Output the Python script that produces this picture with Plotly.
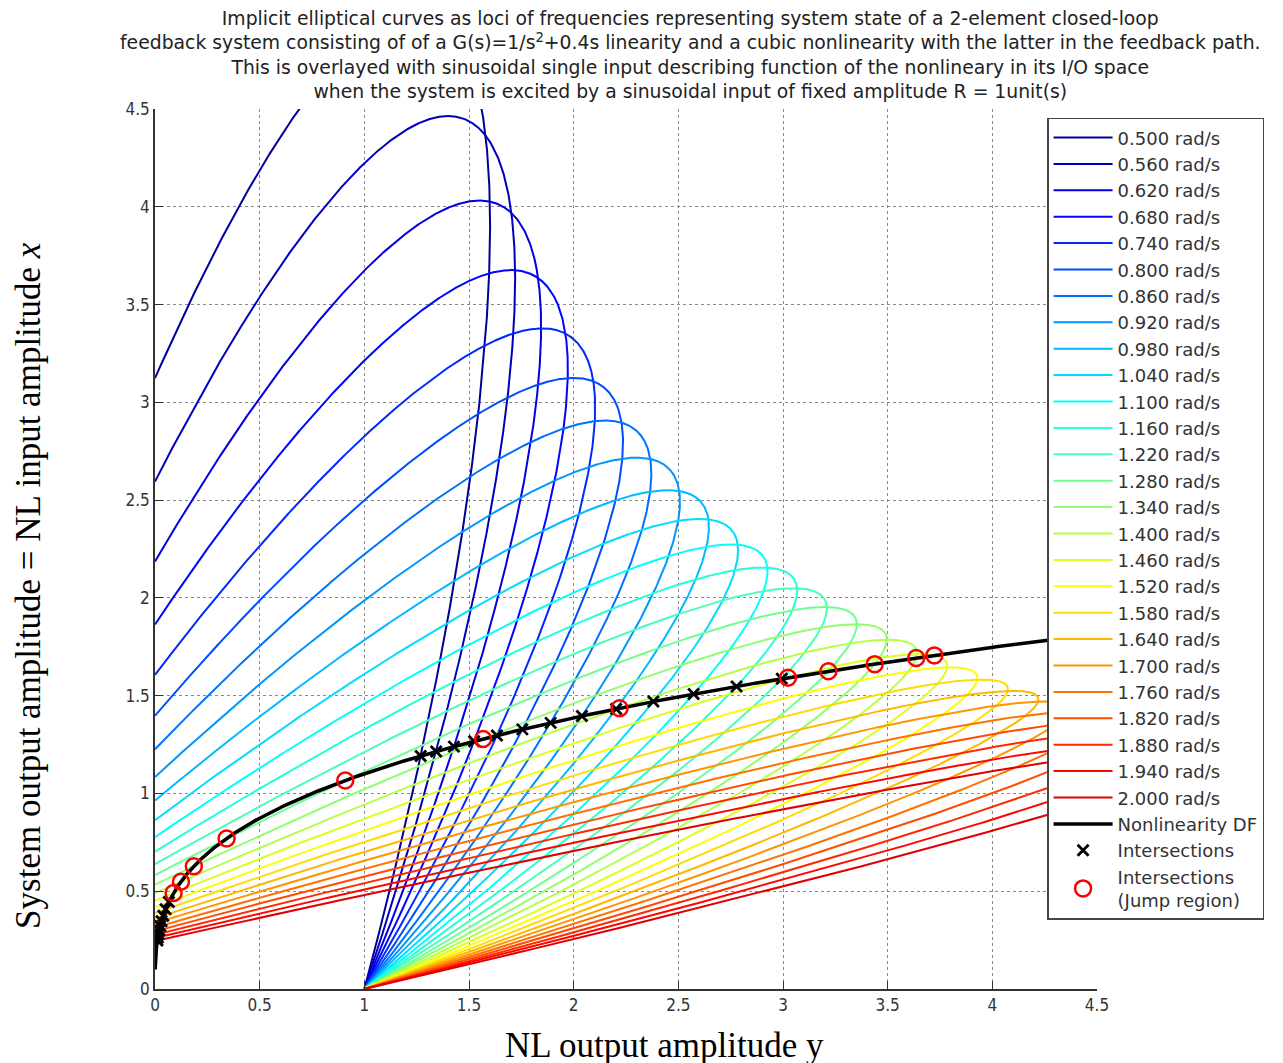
import numpy as np
import plotly.graph_objects as go

# ---------------- data ----------------
freqs = [0.50, 0.56, 0.62, 0.68, 0.74, 0.80, 0.86, 0.92, 0.98, 1.04,
         1.10, 1.16, 1.22, 1.28, 1.34, 1.40, 1.46, 1.52, 1.58, 1.64,
         1.70, 1.76, 1.82, 1.88, 1.94, 2.00]
freq_labels = [f"{w:.3f} rad/s" for w in freqs]
plant_num = [1.0]              # G(s) = 1 / (s^2 + 0.4 s)
plant_den = [1.0, 0.4, 0.0]
R_amp = 1.0                    # input amplitude
df_gain = 0.75                 # cubic nonlinearity DF: N(A) = 3/4 A^2
df_x_range = [0.1, 1.9]        # NL input amplitude span of DF curve
x_ticks = [0, 0.5, 1, 1.5, 2, 2.5, 3, 3.5, 4, 4.5]
y_ticks = [0, 0.5, 1, 1.5, 2, 2.5, 3, 3.5, 4, 4.5]


def jet(t):
    r = min(max(1.5 - abs(4 * t - 3), 0), 1)
    g = min(max(1.5 - abs(4 * t - 2), 0), 1)
    b = min(max(1.5 - abs(4 * t - 1), 0), 1)
    return f"rgb({int(r*255)},{int(g*255)},{int(b*255)})"


fig = go.Figure()

cross_x, cross_y, jump_x, jump_y = [], [], [], []
for i, w in enumerate(freqs):
    s = 1j * w
    Ginv = np.polyval(plant_den, s) / np.polyval(plant_num, s)
    P, Q = Ginv.real, Ginv.imag
    th_end = np.pi + np.arctan(Q / P)
    th = np.linspace(0, th_end, 3000)
    xin = R_amp * np.sin(th) / Q
    yout = R_amp * np.cos(th) - P * xin
    color = jet(0.025 + 0.0352 * i)
    fig.add_trace(go.Scatter(x=yout, y=xin, mode="lines", name=freq_labels[i],
                             line=dict(color=color, width=2)))
    # intersections with DF curve y = c x^3
    c = df_gain
    roots = np.roots([c * c, 2 * P * c, P * P + Q * Q, -R_amp ** 2])
    zs = sorted(r.real for r in roots if abs(r.imag) < 1e-9 and r.real > 0)
    xs = [np.sqrt(z) for z in zs]
    ys = [c * xx ** 3 for xx in xs]
    if len(xs) > 1:
        jump_x += ys
        jump_y += xs
    else:
        cross_x += ys
        cross_y += xs

xd = np.linspace(df_x_range[0], df_x_range[1], 400)
fig.add_trace(go.Scatter(x=df_gain * xd ** 3, y=xd, mode="lines",
                         name="Nonlinearity DF", line=dict(color="black", width=3.5)))
fig.add_trace(go.Scatter(x=cross_x, y=cross_y, mode="markers", name="Intersections",
                         marker=dict(symbol="x-thin", size=11, color="black",
                                     line=dict(color="black", width=2.8))))
fig.add_trace(go.Scatter(x=jump_x, y=jump_y, mode="markers",
                         name="Intersections<br>(Jump region)",
                         marker=dict(symbol="circle-open", size=16, color="red",
                                     line=dict(color="red", width=2.5))))

title = ("Implicit elliptical curves as loci of frequencies representing system state of a 2-element closed-loop<br>"
         "feedback system consisting of of a G(s)=1/s<sup>2</sup>+0.4s linearity and a cubic nonlinearity with the latter in the feedback path.<br>"
         "This is overlayed with sinusoidal single input describing function of the nonlineary in its I/O space<br>"
         "when the system is excited by a sinusoidal input of fixed amplitude R = 1unit(s)")

axis_common = dict(range=[0, 4.5], showgrid=True, gridcolor="#8a8a8a", griddash="dot",
                   gridwidth=1, showline=True, linecolor="#333333", linewidth=1.5,
                   ticks="inside", ticklen=8, tickcolor="#333333", zeroline=False,
                   tickfont=dict(family="DejaVu Sans Condensed", size=17, color="#333333"),
                   mirror=False)

fig.update_layout(
    width=1275, height=1055,
    paper_bgcolor="white", plot_bgcolor="white",
    margin=dict(l=147, r=186, t=101, b=74),
    xaxis=dict(tickvals=x_ticks, ticktext=[f"{v:g}" for v in x_ticks], **axis_common),
    yaxis=dict(tickvals=y_ticks, ticktext=[f"{v:g}" for v in y_ticks], **axis_common),
    showlegend=True,
    legend=dict(x=0.947, y=0.99, xanchor="left", yanchor="top",
                bgcolor="white", bordercolor="#444444", borderwidth=1.5,
                font=dict(family="DejaVu Sans", size=18, color="#333333"),
                tracegroupgap=0, itemwidth=59),
    annotations=[
        dict(text=title, xref="paper", yref="paper", x=0.569, y=1.1165,
             xanchor="center", yanchor="top", showarrow=False, align="center",
             font=dict(family="DejaVu Sans", size=18.8, color="#222222")),
        dict(text="NL output amplitude y", xref="paper", yref="paper",
             x=0.541, y=-0.040, xanchor="center", yanchor="top", showarrow=False,
             font=dict(family="Liberation Serif", size=35, color="black")),
        dict(text="System output amplitude = NL input amplitude <i>x</i>", xref="paper", yref="paper",
             x=-0.135, y=0.459, xanchor="center", yanchor="middle", showarrow=False, textangle=-90,
             font=dict(family="Liberation Serif", size=35, color="black")),
    ],
)

fig.write_html("out.html")
